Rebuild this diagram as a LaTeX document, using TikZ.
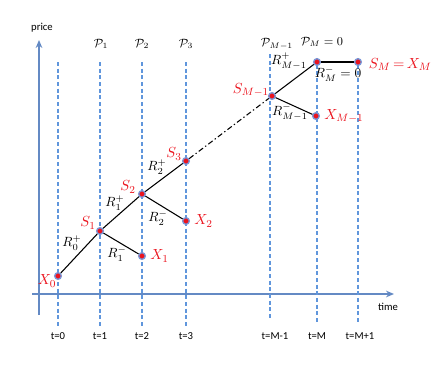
\documentclass[tikz,border=0pt]{standalone}
\usepackage{fontspec}
\setmainfont{Carlito}
\usetikzlibrary{positioning,arrows.meta}

\definecolor{axisblue}{RGB}{100,138,196}
\definecolor{gridblue}{RGB}{96,150,220}
\definecolor{dotred}{RGB}{235,20,30}
\definecolor{dotrim}{RGB}{120,150,215}

\tikzset{
	pt/.style={circle, fill=dotred, draw=dotrim, line width=1pt, inner sep=0pt, minimum size=5pt},
	redlab/.style={text=dotred, font=\fontsize{11}{13}\selectfont, inner sep=1pt},
	rlab/.style={font=\normalsize, inner sep=0pt},
	plab/.style={font=\small, inner sep=0pt},
	tlab/.style={font=\footnotesize, inner sep=0pt},
	grid/.style={gridblue, line width=0.8pt, dash pattern=on 3pt off 2pt},
	axis/.style={axisblue, line width=1.4pt, -{Stealth[length=6pt,width=5pt]}},
}

\begin{document}
\begin{tikzpicture}[x=0.75pt,y=0.75pt]
	\useasboundingbox (0,0) rectangle (446,369);

	% assi
	\coordinate (p0) at (39,54);
	\coordinate (p1) at (39,329);
	\coordinate (t0) at (32,75);
	\coordinate (t1) at (394,75);
	\draw[axis] (p0) -- (p1);
	\draw[axis] (t0) -- (t1);
	\node[tlab] (price) at (42,341) {price};
	\node[tlab] (time) at (388,62) {time};

	% linee tratteggiate
	\draw[grid] (58,307) -- (58,42);
	\draw[grid] (100,307) -- (100,42);
	\draw[grid] (142,307) -- (142,42);
	\draw[grid] (186,307) -- (186,42);
	\draw[grid] (270,315) -- (270,51);
	\draw[grid] (317,311) -- (317,47);
	\draw[grid] (358,311) -- (358,47);

	\node[tlab] (lt0) at (58,33) {t=0};
	\node[tlab] (lt1) at (100,33) {t=1};
	\node[tlab] (lt2) at (142,33) {t=2};
	\node[tlab] (lt3) at (186,33) {t=3};
	\node[tlab] (ltm1) at (275,33) {t=M-1};
	\node[tlab] (ltm) at (317,33) {t=M};
	\node[tlab] (ltm2) at (360,33) {t=M+1};

	\node[plab] (P1) at (101,325) {$\mathcal{P}_1$};
	\node[plab] (P2) at (142,325) {$\mathcal{P}_2$};
	\node[plab] (P3) at (186,325) {$\mathcal{P}_3$};
	\node[plab] (PM1) at (277,325) {$\mathcal{P}_{M-1}$};
	\node[plab] (PM) at (322,327) {$\mathcal{P}_M=0$};

	% albero
	\node[pt] (X0) at (58,93) {};
	\node[pt] (S1) at (100,138) {};
	\node[pt] (X1) at (142,113) {};
	\node[pt] (S2) at (142,175) {};
	\node[pt] (X2) at (186,148) {};
	\node[pt] (S3) at (186,208) {};
	\node[pt] (SM1) at (272,273) {};
	\node[pt] (XM1) at (316,253) {};
	\node[pt] (SMt) at (317,307) {};
	\node[pt] (SMX) at (358,307) {};

	\draw[thick] (X0) -- (S1);
	\draw[thick] (S1) -- (S2);
	\draw[thick] (S1) -- (X1);
	\draw[thick] (S2) -- (S3);
	\draw[thick] (S2) -- (X2);
	\draw[thick, dash pattern=on 4pt off 2pt on 1pt off 2pt] (S3) -- (SM1);
	\draw[thick] (SM1) -- (SMt);
	\draw[thick] (SM1) -- (XM1);
	\draw[thick] (SMt) -- (SMX);

	\node[redlab] (lX0) at (47,88) {$X_0$};
	\node[redlab] (lS1) at (88,146) {$S_1$};
	\node[redlab] (lS2) at (128,182) {$S_2$};
	\node[redlab] (lS3) at (174,215) {$S_3$};
	\node[redlab] (lSM1) at (251,279) {$S_{M-1}$};
	\node[redlab, right=2pt of X1] (lX1) {$X_1$};
	\node[redlab, right=2pt of X2] (lX2) {$X_2$};
	\node[redlab, right=2pt of XM1] (lXM1) {$X_{M-1}$};
	\node[redlab, right=4pt of SMX, yshift=-2pt] (lSMX) {$S_M\,{=}\,X_M$};

	\node[rlab] (R0p) at (72,126) {$R_0^+$};
	\node[rlab] (R1p) at (115,166) {$R_1^+$};
	\node[rlab] (R1m) at (117,115) {$R_1^-$};
	\node[rlab] (R2p) at (157,202) {$R_2^+$};
	\node[rlab] (R2m) at (158,151) {$R_2^-$};
	\node[rlab] (RM1p) at (289,308) {$R_{M-1}^+$};
	\node[rlab] (RM1m) at (290,257) {$R_{M-1}^-$};
	\node[rlab] (RMm) at (338,295) {$R_M^-=0$};
\end{tikzpicture}
\end{document}
